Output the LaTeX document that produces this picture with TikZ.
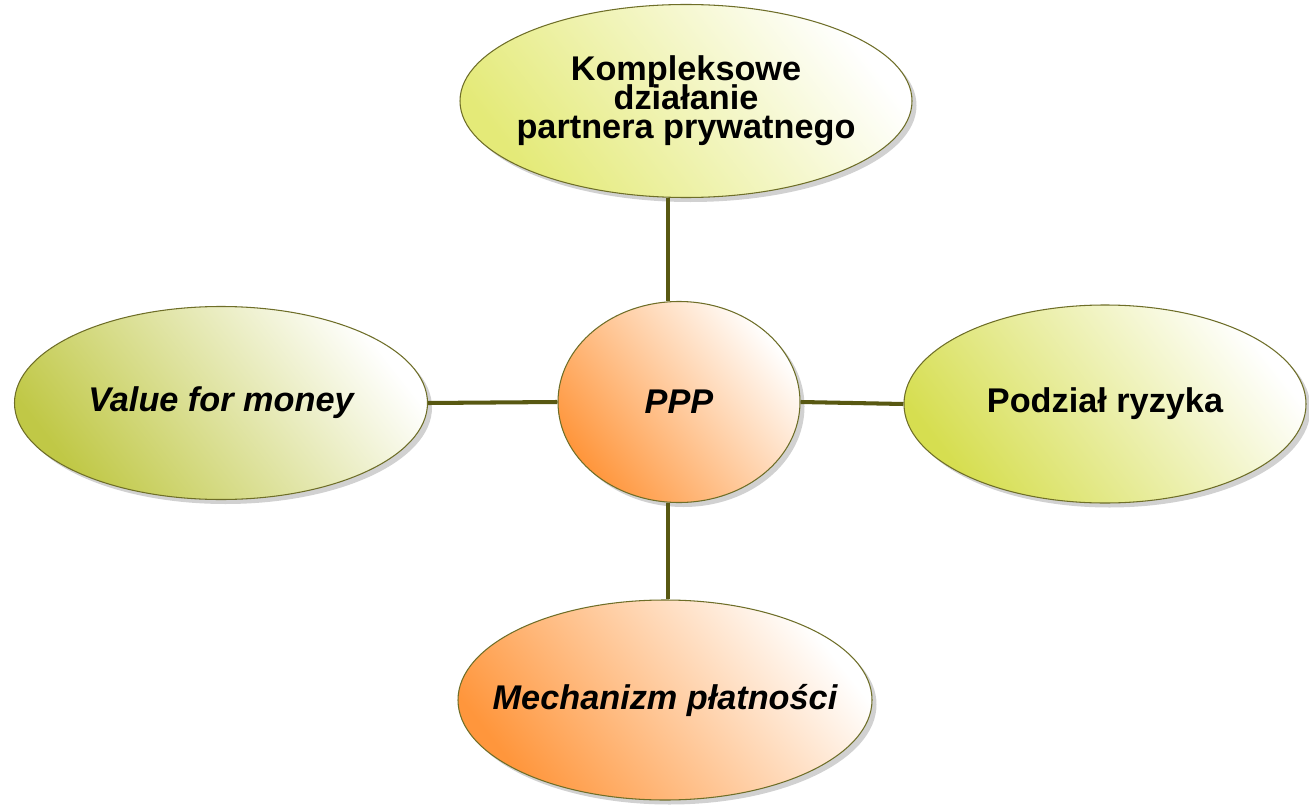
\documentclass[tikz,border=0pt]{standalone}
\usepackage{fontspec}
\setmainfont{Liberation Sans}
\usetikzlibrary{shapes.geometric,shadows}
\definecolor{liniaoliw}{RGB}{88,88,18}
\definecolor{ramka}{RGB}{110,110,40}
\definecolor{zolty}{RGB}{228,234,120}
\definecolor{oliwka}{RGB}{192,200,70}
\definecolor{jasnyziel}{RGB}{214,222,80}
\definecolor{pomarancz}{RGB}{255,150,60}
\AtBeginDocument{\lineskiplimit=-20pt}

\begin{document}
\begin{tikzpicture}[x=0.2mm, y=-0.2mm,
            elips/.style={ellipse, draw=ramka, line width=0.6pt, inner sep=0pt,
                drop shadow={shadow xshift=0.09cm, shadow yshift=-0.09cm, fill=black!40, opacity=0.45}},
            zielony/.style={elips, left color=#1, right color=white, shading angle=128},
            pomar/.style={elips, left color=pomarancz, right color=white, shading angle=128},
            napis/.style={align=center, inner sep=0pt, font=\fontsize{19.5}{16.5}\selectfont\bfseries},
            napiskursywa/.style={napis, font=\fontsize{19.5}{16.5}\selectfont\bfseries\itshape},
            lacznik/.style={draw=liniaoliw, line width=2.3pt}
        ]
        \useasboundingbox (0,0) rectangle (1309,808);
        \node[zielony=zolty, minimum width=9.04cm, minimum height=3.86cm,
              label={[napis]center:{Kompleksowe\\ działanie\\ partnera prywatnego}}] (kompleks) at (686,101) {};
        \node[zielony=oliwka, minimum width=8.26cm, minimum height=3.86cm,
              label={[napiskursywa]center:Value for money}] (value) at (221,403) {};
        \node[pomar, minimum width=4.84cm, minimum height=4.02cm,
              label={[napiskursywa]center:PPP}] (ppp) at (679,402) {};
        \node[zielony=jasnyziel, minimum width=8.04cm, minimum height=3.96cm,
              label={[napis]center:Podział ryzyka}] (ryzyko) at (1105,404) {};
        \node[pomar, minimum width=8.28cm, minimum height=4.0cm,
              label={[napiskursywa]center:Mechanizm płatności}] (platnosc) at (665,700) {};
        \draw[lacznik] ([xshift=-2.2mm]ppp.north) -- ([xshift=-2.2mm]ppp.north |- kompleks.south);
        \draw[lacznik] (ppp.west) -- (value.east);
        \draw[lacznik] (ppp.east) -- (ryzyko.west);
        \draw[lacznik] ([xshift=-2.2mm]ppp.south) -- ([xshift=-2.2mm]ppp.south |- platnosc.north);
\end{tikzpicture}
\end{document}
